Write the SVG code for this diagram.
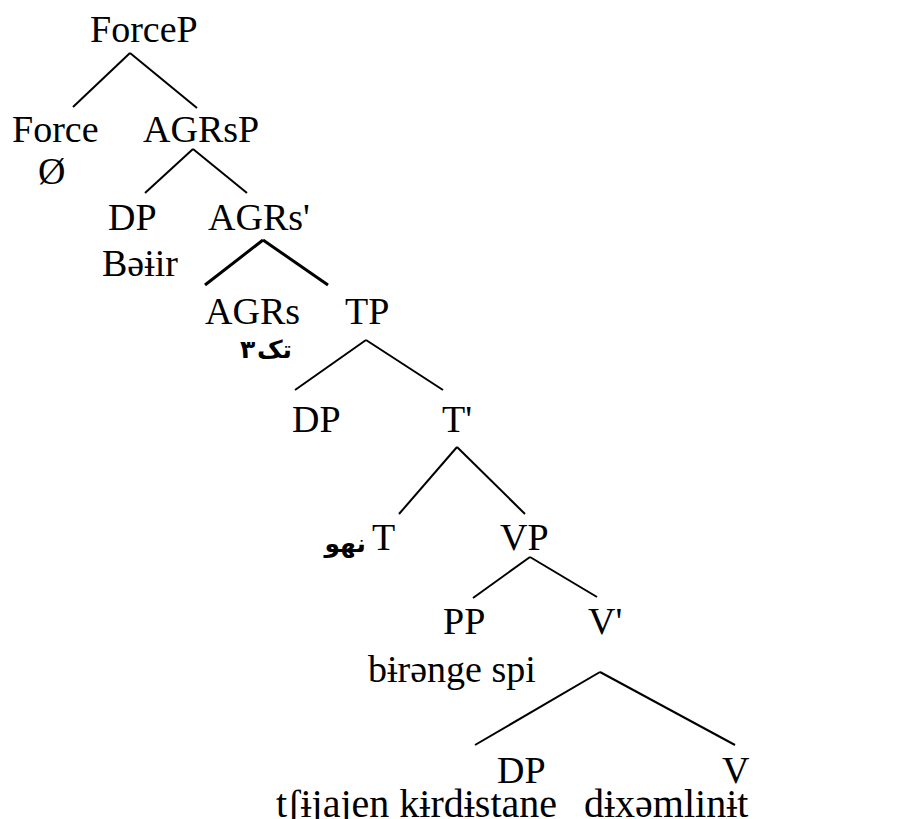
<svg xmlns="http://www.w3.org/2000/svg" width="907" height="819" viewBox="0 0 907 819">
<style>
text{font-family:"Liberation Serif","DejaVu Serif",serif;font-size:38px;fill:#000}
.ar{font-family:"DejaVu Sans",sans-serif;font-weight:bold;font-size:25px}
.big{font-size:40px}
line{stroke:#000;stroke-width:2}
.thick{stroke-width:3}
</style>
<rect width="907" height="819" fill="#fff"/>
<g id="connectors">
<line x1="130" y1="53" x2="73" y2="107"/><line x1="130" y1="53" x2="197" y2="108"/>
<line x1="193" y1="149" x2="145" y2="193"/><line x1="193" y1="149" x2="247" y2="193"/>
<line class="thick" x1="263" y1="240" x2="205" y2="285"/><line class="thick" x1="263" y1="240" x2="328" y2="285"/>
<line x1="366" y1="340" x2="295" y2="390"/><line x1="366" y1="340" x2="443" y2="390"/>
<line x1="457" y1="447" x2="399" y2="514"/><line x1="457" y1="447" x2="525" y2="514"/>
<line x1="530" y1="557" x2="473" y2="598"/><line x1="530" y1="557" x2="597" y2="597"/>
<line x1="600" y1="672" x2="475" y2="745"/><line x1="600" y1="672" x2="735" y2="745"/>
</g>
<g id="forcep"><text x="90" y="42">ForceP</text></g>
<g id="force"><text x="12" y="142">Force</text><text x="38" y="184">Ø</text></g>
<g id="agrsp"><text x="143" y="142">AGRsP</text></g>
<g id="dp1"><text x="108" y="230">DP</text><text x="102" y="276">Bəɨir</text></g>
<g id="agrs-bar"><text x="208" y="230">AGRs'</text></g>
<g id="agrs"><text x="205" y="324">AGRs</text><text class="ar" x="240" y="358">۳</text><text class="ar" x="292" y="358" text-anchor="end">تک</text></g>
<g id="tp"><text x="345" y="324">TP</text></g>
<g id="dp2"><text x="292" y="432">DP</text></g>
<g id="t-bar"><text x="442" y="432">T'</text></g>
<g id="t"><text class="ar" x="366" y="552" text-anchor="end">نهو</text><text x="372" y="550">T</text></g>
<g id="vp"><text x="500" y="550">VP</text></g>
<g id="pp"><text x="443" y="634">PP</text><text x="368" y="682">bɨrənge spi</text></g>
<g id="v-bar"><text x="588" y="634">V'</text></g>
<g id="dp3"><text x="497" y="783">DP</text><text class="big" x="276" y="817">tʃɨjajen kɨrdɨstane</text></g>
<g id="v"><text x="722" y="783">V</text><text class="big" x="584" y="817">dɨxəmlinɨt</text></g>
</svg>
